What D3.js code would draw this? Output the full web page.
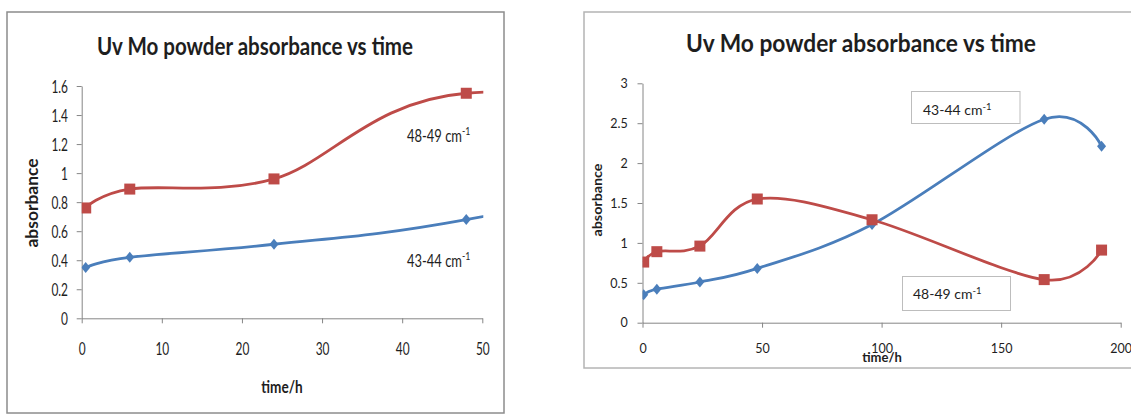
<!DOCTYPE html>
<html>
<head>
<meta charset="utf-8">
<script src="https://cdn.jsdelivr.net/npm/d3@7"></script>
<style>
  body { margin: 0; background: #fff; }
  text { font-family: Lato, "Open Sans", sans-serif; fill: #1e1e1e; }
</style>
</head>
<body>
<div id="container"></div>
<script>
const times    = [0.5, 6, 24, 48, 96, 168, 192];
const band4344 = [0.35, 0.42, 0.51, 0.68, 1.23, 2.55, 2.21];
const band4849 = [0.76, 0.89, 0.96, 1.55, 1.29, 0.54, 0.91];

const leftXTicks  = [0, 10, 20, 30, 40, 50];
const leftYTicks  = [0, 0.2, 0.4, 0.6, 0.8, 1, 1.2, 1.4, 1.6];
const rightXTicks = [0, 50, 100, 150, 200];
const rightYTicks = [0, 0.5, 1, 1.5, 2, 2.5, 3];

const titleText = "Uv Mo powder absorbance vs time";
const xLabel = "time/h";
const yLabel = "absorbance";

const blue = "#4a7ebb", red = "#be4b48";
const series = [
  { label: "43-44", values: band4344, color: blue, marker: "diamond" },
  { label: "48-49", values: band4849, color: red,  marker: "square" }
];

const width = 1131, height = 414;
const svg = d3.select("#container").append("svg")
  .attr("width", width).attr("height", height)
  .style("display", "block");

// text squeezed horizontally (the original screenshot is stretched)
function squeezed(parent, x, y, sx, str, size, weight, anchor) {
  const t = parent.append("text")
    .attr("transform", "translate(" + x + "," + y + ") scale(" + sx + ",1)")
    .attr("text-anchor", anchor || "start")
    .style("font-size", size + "px")
    .style("font-weight", weight || 400);
  return t.text(str);
}

function waveLabel(parent, x, y, sx, band, size) {
  const t = squeezed(parent, x, y, sx, band + " cm", size, 400);
  t.append("tspan").attr("dy", -size * 0.38).style("font-size", (size * 0.68) + "px").text("-1");
  return t;
}

function drawPanel(p) {
  const g = svg.append("g");

  g.append("rect")
    .attr("x", p.frame[0]).attr("y", p.frame[1])
    .attr("width", p.frame[2] - p.frame[0]).attr("height", p.frame[3] - p.frame[1])
    .attr("fill", "none").attr("stroke", p.frameColor).attr("stroke-width", 1.5);

  const x = d3.scaleLinear().domain(p.xDomain).range(p.xRange);
  const y = d3.scaleLinear().domain(p.yDomain).range(p.yRange);

  // title
  g.append("text")
    .attr("x", p.titleX).attr("y", p.titleY)
    .attr("text-anchor", "middle")
    .attr("textLength", p.titleLen).attr("lengthAdjust", "spacingAndGlyphs")
    .style("font-size", "25px").style("font-weight", 700)
    .text(titleText);

  // axes
  const yAxis = d3.axisLeft(y).tickValues(p.yTicks).tickSize(5).tickSizeOuter(0).tickFormat(d => d);
  const xAxis = d3.axisBottom(x).tickValues(p.xTicks).tickSize(5).tickSizeOuter(0).tickFormat(d => d);

  const ya = g.append("g").attr("transform", "translate(" + p.xRange[0] + ",0)").call(yAxis);
  const xa = g.append("g").attr("transform", "translate(0," + p.yRange[0] + ")").call(xAxis);
  [ya, xa].forEach(a => {
    a.select(".domain").attr("stroke", "#868686");
    a.selectAll(".tick line").attr("stroke", "#868686");
    a.selectAll(".tick text")
      .attr("fill", "#1e1e1e")
      .style("font-family", "Lato, 'Open Sans', sans-serif")
      .style("font-size", p.tickSize + "px");
  });
  ya.selectAll(".tick text")
    .attr("x", -p.yTickGap / p.tickSx)
    .attr("dy", "0.34em")
    .attr("transform", "scale(" + p.tickSx + ",1)");
  xa.selectAll(".tick text")
    .attr("y", p.xTickGap)
    .attr("dy", "0.71em")
    .attr("transform", "scale(" + p.tickSx + ",1)");

  // axis titles
  squeezed(g, p.xLabelPos[0], p.xLabelPos[1], p.labelSx, xLabel, p.labelSize, 700, "middle");
  g.append("text")
    .attr("transform", "translate(" + p.yLabelPos[0] + "," + p.yLabelPos[1] + ") rotate(-90)")
    .attr("text-anchor", "middle")
    .attr("textLength", p.yLabelLen).attr("lengthAdjust", "spacingAndGlyphs")
    .style("font-size", p.labelSize + "px").style("font-weight", 700)
    .text(yLabel);

  // series, clipped to the plot area
  const clipId = "clip" + p.id;
  g.append("clipPath").attr("id", clipId).append("rect")
    .attr("x", p.xRange[0]).attr("y", p.yRange[1] - 10)
    .attr("width", p.xRange[1] - p.xRange[0] + 1).attr("height", p.yRange[0] - p.yRange[1] + 10);
  const plot = g.append("g").attr("clip-path", "url(#" + clipId + ")");

  const line = d3.line()
    .x((d, i) => x(times[i]))
    .y(d => y(d))
    .curve(d3.curveCardinal.tension(0));

  series.forEach(s => {
    plot.append("path")
      .attr("d", line(s.values))
      .attr("fill", "none")
      .attr("stroke", s.color)
      .attr("stroke-width", 2.8);

    const pts = s.values.map((v, i) => [times[i], v]).filter(d => d[0] <= p.xDomain[1]);
    if (s.marker === "square") {
      plot.selectAll(null).data(pts).join("rect")
        .attr("x", d => x(d[0]) - 5.5).attr("y", d => y(d[1]) - 5.5)
        .attr("width", 11).attr("height", 11)
        .attr("fill", s.color);
    } else {
      plot.selectAll(null).data(pts).join("path")
        .attr("transform", d => "translate(" + x(d[0]) + "," + y(d[1]) + ")")
        .attr("d", "M0,-5.5L4.5,0L0,5.5L-4.5,0Z")
        .attr("fill", s.color);
    }
  });

  p.notes(g);
}

drawPanel({
  id: "L",
  frame: [7, 12, 504, 413], frameColor: "#8c8c8c",
  xDomain: [0, 50], xRange: [81.7, 482.3],
  yDomain: [0, 1.6], yRange: [318.3, 86],
  xTicks: leftXTicks, yTicks: leftYTicks,
  titleX: 255, titleY: 55, titleLen: 316,
  tickSize: 18, tickSx: 0.66, yTickGap: 13.7, xTickGap: 24,
  labelSize: 17, labelSx: 0.8,
  xLabelPos: [282, 393], yLabelPos: [38, 203], yLabelLen: 89,
  notes: g => {
    waveLabel(g, 407, 142, 0.72, "48-49", 18);
    waveLabel(g, 407, 267, 0.72, "43-44", 18);
  }
});

drawPanel({
  id: "R",
  frame: [584, 12, 1140, 368], frameColor: "#b4b4b4",
  xDomain: [0, 200], xRange: [642.5, 1120.7],
  yDomain: [0, 3], yRange: [322.7, 83.3],
  xTicks: rightXTicks, yTicks: rightYTicks,
  titleX: 861, titleY: 52, titleLen: 350,
  tickSize: 12.5, tickSx: 1, yTickGap: 14.7, xTickGap: 21,
  labelSize: 13, labelSx: 1,
  xLabelPos: [882, 362], yLabelPos: [602, 200], yLabelLen: 73,
  notes: g => {
    g.append("rect").attr("x", 911.5).attr("y", 91.5).attr("width", 108.5).attr("height", 32)
      .attr("fill", "#fff").attr("stroke", "#bdbdbd");
    waveLabel(g, 923, 115, 1, "43-44", 14);
    g.append("rect").attr("x", 902.5).attr("y", 276.5).attr("width", 108).attr("height", 34)
      .attr("fill", "#fff").attr("stroke", "#bdbdbd");
    waveLabel(g, 913, 299, 1, "48-49", 14);
  }
});
</script>
</body>
</html>
